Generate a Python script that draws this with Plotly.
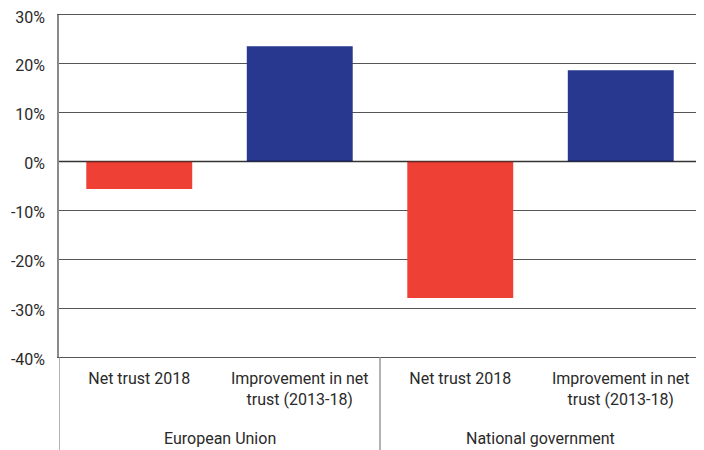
import plotly.graph_objects as go

groups = ["European Union", "National government"]
measures = ["Net trust 2018", "Improvement in net<br>trust (2013-18)",
            "Net trust 2018", "Improvement in net<br>trust (2013-18)"]
values = [-5.6, 23.6, -27.9, 18.7]
colors = ["#EF4036", "#27388E", "#EF4036", "#27388E"]
y_ticks = [-40, -30, -20, -10, 0, 10, 20, 30]
y_tick_text = ["-40%", "-30%", "-20%", "-10%", "0%", "10%", "20%", "30%"]

positions = list(range(len(measures)))

# page body has an 8px margin, so the figure is sized to end at the window edges
W, H = 696, 442
ML, MR, MT, MB = 51, 3, 7, 93
plot_h = H - MT - MB

fig = go.Figure()
fig.add_trace(go.Bar(
    x=positions, y=values, width=0.66,
    marker=dict(color=colors, line=dict(width=0)),
    hoverinfo="skip",
))

# zero line overlay (slightly darkens the red bars' top edges)
fig.add_shape(type="line", xref="paper", yref="y", x0=0, x1=1, y0=0, y1=0,
              line=dict(color="rgba(0,0,0,0.4)", width=2), layer="above")

# group dividers below the axis
for xd in [-0.5, 1.5, 3.5]:
    fig.add_shape(type="line", xref="x", yref="paper", x0=xd, x1=xd,
                  y0=0, y1=-(MB + 8) / plot_h,
                  line=dict(color="#8a8a8a", width=1.3), layer="above")

for i, g in enumerate(groups):
    fig.add_annotation(x=2 * i + 0.5, xref="x", y=-81 / plot_h, yref="paper",
                       text=g, showarrow=False, yanchor="middle", xanchor="center",
                       font=dict(family="Roboto", size=16, color="#2a2a2a"))

fig.update_layout(
    width=W, height=H,
    margin=dict(l=ML, r=MR, t=MT, b=MB, autoexpand=False),
    paper_bgcolor="white", plot_bgcolor="white",
    font=dict(family="Roboto", size=16, color="#2a2a2a"),
    showlegend=False,
)
fig.update_yaxes(
    range=[-40, 30], tickvals=y_ticks, ticktext=y_tick_text,
    showgrid=True, gridcolor="#555555", gridwidth=1.3,
    zeroline=False, automargin=False,
    showline=True, linecolor="#8a8a8a", linewidth=1.5,
    ticks="", ticklabelstandoff=9, ticklabeloverflow="allow",
    ticklabelshift=2,
)
fig.update_xaxes(
    range=[-0.5, 3.5], tickvals=positions, ticktext=measures,
    showline=True, mirror=True, linecolor="#555555", linewidth=1.3,
    showgrid=False, zeroline=False, automargin=False,
    ticks="", ticklabelstandoff=7,
)
fig.write_html("out.html")
